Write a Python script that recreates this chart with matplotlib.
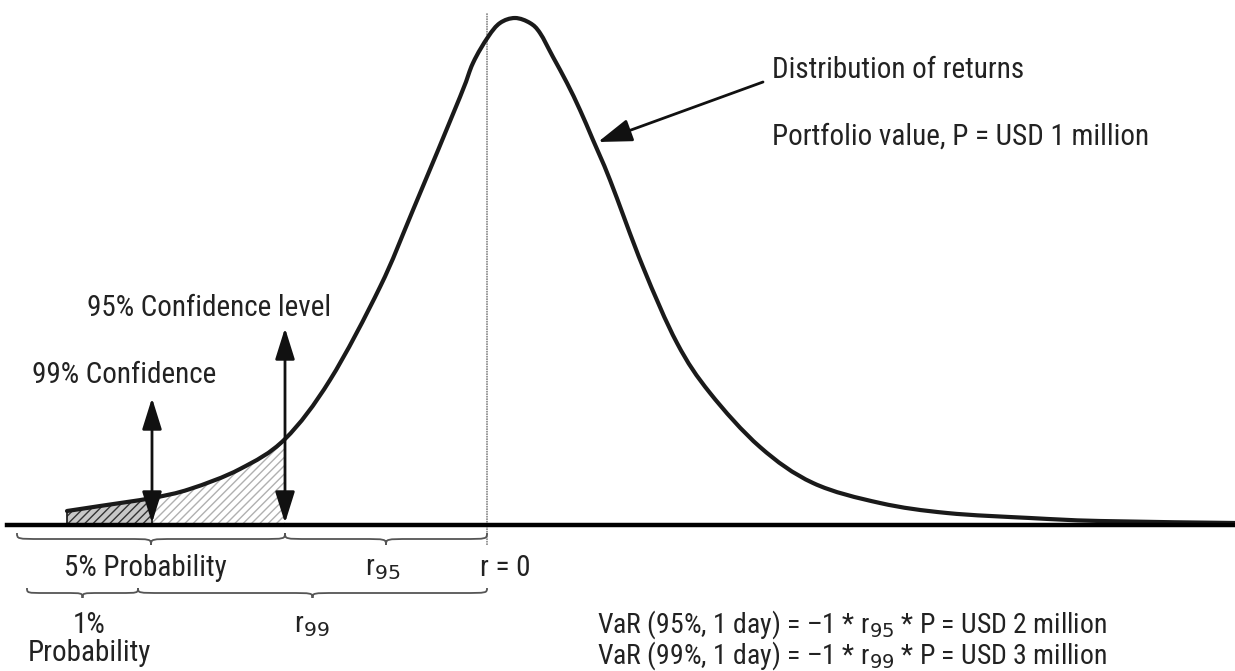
import numpy as np
import matplotlib.pyplot as plt
from matplotlib.path import Path
from matplotlib.patches import PathPatch

FONT = ['Liberation Sans Narrow', 'Roboto Condensed', 'Liberation Sans', 'DejaVu Sans']
plt.rcParams['font.family'] = FONT
plt.rcParams['mathtext.fontset'] = 'custom'
plt.rcParams['mathtext.rm'] = FONT[0]
plt.rcParams['hatch.linewidth'] = 1.0

# returns (r = 0 at the dotted line) and density
returns = [-4.20, -3.87, -3.35, -2.97, -2.47, -2.02, -1.57, -1.07, -0.74,
           -0.27, -0.14, 0.01, 0.13, 0.28, 0.43, 0.53, 0.66, 0.80,
           0.93, 1.06, 1.23, 1.56, 1.90, 2.23, 2.73, 3.26, 3.93, 4.60,
           5.43, 6.13, 7.48]
density = [0.14, 0.19, 0.27, 0.36, 0.56, 0.86, 1.45, 2.38, 3.15,
           4.28, 4.62, 4.88, 5.02, 5.07, 5.02, 4.92, 4.68, 4.42,
           4.15, 3.85, 3.45, 2.58, 1.82, 1.32, 0.78, 0.42, 0.22, 0.12,
           0.07, 0.04, 0.02]

r99 = -3.35   # 1% cut-off
r95 = -2.02   # 5% cut-off

var_lines = ['VaR (95%, 1 day) = \u20131 * r$_{95}$ * P = USD 2 million',
             'VaR (99%, 1 day) = \u20131 * r$_{99}$ * P = USD 3 million']

r = np.array(returns)
d = np.array(density)
pts = np.column_stack([r, d])
i99 = int(np.argmin(abs(r - r99)))
i95 = int(np.argmin(abs(r - r95)))


def smooth_path(i0, i1):
    # cubic bezier pieces through the read points (catmull-rom style handles)
    verts = [tuple(pts[i0])]
    codes = [Path.MOVETO]
    n = len(pts)
    for i in range(i0, i1):
        p0 = pts[max(i - 1, 0)]
        p1 = pts[i]
        p2 = pts[i + 1]
        p3 = pts[min(i + 2, n - 1)]
        verts += [tuple(p1 + (p2 - p0) / 6), tuple(p2 - (p3 - p1) / 6), tuple(p2)]
        codes += [Path.CURVE4] * 3
    return verts, codes


def region(i0, i1):
    verts, codes = smooth_path(i0, i1)
    verts += [(r[i1], 0), (r[i0], 0), (r[i0], d[i0])]
    codes += [Path.LINETO, Path.LINETO, Path.LINETO]
    return Path(verts, codes)


fig = plt.figure(figsize=(12.35, 6.71), dpi=100)
ax = fig.add_axes([0, 0, 1, 1])
ax.set_xlim(-4.87, 7.48)
ax.set_ylim(-1.46, 5.25)
ax.axis('off')

# shaded tails
ax.add_patch(PathPatch(region(0, i99), facecolor='#c8c8c8', edgecolor='#333333',
                       hatch='////', lw=0, zorder=1))
ax.add_patch(PathPatch(region(i99, i95), facecolor='white', edgecolor='#b0b0b0',
                       hatch='////', lw=0, zorder=1))
ax.add_patch(PathPatch(region(0, i99), fill=False, edgecolor='#222222', lw=1.3, zorder=2))

# distribution curve
v, c = smooth_path(0, len(pts) - 1)
ax.add_patch(PathPatch(Path(v, c), fill=False, edgecolor='#1a1a1a', lw=3.0,
                       capstyle='round', zorder=3))

# axis line and r = 0 marker
ax.plot([-4.80, 7.48], [0, 0], color='black', lw=3.2, zorder=4)
ax.plot([0, 0], [-0.20, 5.12], color='#888888', lw=1.2, ls=(0, (1, 0.5)), zorder=0)

# confidence arrows
arrow = dict(arrowstyle='<|-|>,head_length=0.8,head_width=0.25', color='#111111',
             lw=2.0, mutation_scale=24, shrinkA=0, shrinkB=0)
ax.annotate('', xy=(r99, 0.02), xytext=(r99, 1.27), arrowprops=arrow, zorder=5)
ax.annotate('', xy=(r95, 0.02), xytext=(r95, 1.97), arrowprops=arrow, zorder=5)
ax.annotate('', xy=(1.11, 3.83), xytext=(2.76, 4.43),
            arrowprops=dict(arrowstyle='-|>,head_length=0.8,head_width=0.27',
                            color='#111111', lw=2.0, mutation_scale=26,
                            shrinkA=0, shrinkB=0))


def brace(x0, x1, ytop, ytip):
    xm = (x0 + x1) / 2
    ymid = (ytop + ytip) / 2
    w = min(0.25, (x1 - x0) / 6)
    verts = [(x0, ytop), (x0, ymid), (x0, ymid), (x0 + w, ymid),
             (xm - w, ymid), (xm, ymid), (xm, ymid), (xm, ytip),
             (xm, ymid), (xm, ymid), (xm + w, ymid),
             (x1 - w, ymid), (x1, ymid), (x1, ymid), (x1, ytop)]
    codes = [Path.MOVETO, Path.CURVE4, Path.CURVE4, Path.CURVE4,
             Path.LINETO, Path.CURVE4, Path.CURVE4, Path.CURVE4,
             Path.CURVE4, Path.CURVE4, Path.CURVE4,
             Path.LINETO, Path.CURVE4, Path.CURVE4, Path.CURVE4]
    ax.add_patch(PathPatch(Path(verts, codes), fill=False, ec='#555555', lw=1.3))


brace(-4.70, r95, -0.08, -0.20)
brace(r95, 0, -0.08, -0.20)
brace(-4.60, -3.49, -0.63, -0.73)
brace(-3.49, 0, -0.63, -0.73)

fs = 21
kw = dict(fontsize=fs, color='#222222', va='center')
ax.text(2.85, 4.55, 'Distribution of returns', **kw)
ax.text(2.85, 3.88, 'Portfolio value, P = USD 1 million', **kw)
ax.text(-2.78, 2.17, '95% Confidence level', ha='center', **kw)
ax.text(-3.63, 1.50, '99% Confidence', ha='center', **kw)
ax.text(-3.42, -0.43, '5% Probability', ha='center', **kw)
ax.text(-1.04, -0.43, r'r$_{95}$', ha='center', **kw)
ax.text(-0.07, -0.43, 'r = 0', ha='left', **kw)
ax.text(-1.75, -1.00, r'r$_{99}$', ha='center', **kw)
ax.text(-3.98, -1.14, '1%\nProbability', ha='center', fontsize=fs,
        color='#222222', va='center', linespacing=1.0)
ax.text(1.10, -1.15, '\n'.join(var_lines), fontsize=20, color='#222222',
        va='center', ha='left', linespacing=0.95)

fig.savefig('out.png', dpi=100, facecolor='white')
